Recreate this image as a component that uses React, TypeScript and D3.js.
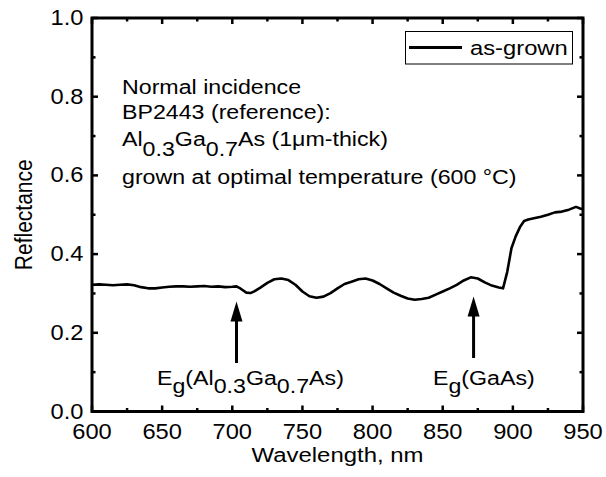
import React from "react";
import * as d3 from "d3";

const wavelength = [600,605,610,615,620,625,630,635,640,645,650,655,660,665,670,675,680,685,690,695,700,703,706,710,713,716,720,725,730,735,740,745,750,755,760,765,770,775,780,785,790,795,800,805,810,815,820,825,830,835,840,845,850,855,860,865,870,875,880,885,890,893,896,899,902,905,908,911,915,920,925,930,935,940,945,948,950];
const reflectance = [0.322,0.323,0.322,0.321,0.322,0.323,0.321,0.316,0.313,0.313,0.315,0.317,0.318,0.318,0.317,0.318,0.319,0.317,0.318,0.316,0.317,0.318,0.312,0.302,0.301,0.306,0.315,0.327,0.336,0.338,0.334,0.322,0.305,0.293,0.289,0.292,0.301,0.313,0.324,0.330,0.336,0.338,0.333,0.324,0.313,0.302,0.294,0.287,0.284,0.286,0.289,0.297,0.305,0.313,0.322,0.333,0.341,0.338,0.328,0.320,0.315,0.313,0.355,0.415,0.445,0.468,0.484,0.488,0.491,0.495,0.500,0.506,0.508,0.513,0.520,0.516,0.514];

const xTicks = [600, 650, 700, 750, 800, 850, 900, 950];
const xMinor = [625, 675, 725, 775, 825, 875, 925];
const yTicks = [0.0, 0.2, 0.4, 0.6, 0.8, 1.0];
const yMinor = [0.1, 0.3, 0.5, 0.7, 0.9];
const seriesName = "as-grown";
const arrowsAt = [703, 872];

const W = 606, H = 477;
const left = 92, right = 583, top = 18, bottom = 411.5;
const FONT = "Arial, 'Liberation Sans', Helvetica, sans-serif";
const SX = 1.16;

function T(props: { x: number; y: number; fs: number; sx?: number; anchor?: string; rot?: boolean; children: React.ReactNode }) {
  const { x, y, fs, sx = SX, anchor = "start", rot = false, children } = props;
  return (
    <text
      transform={`translate(${x},${y}) scale(${sx},1)${rot ? " rotate(-90)" : ""}`}
      fontSize={fs}
      textAnchor={anchor}
    >
      {children}
    </text>
  );
}

export default function App() {
  const x = d3.scaleLinear().domain([600, 950]).range([left, right]);
  const y = d3.scaleLinear().domain([0, 1]).range([bottom, top]);
  const line = d3.line<number>().x((_, i) => x(wavelength[i])).y((d) => y(d));
  const major = 6, minor = 3.5;
  const tickFs = 21.5, tickSx = 1.1;
  const fs = 20;
  const sub = 10, subE = 8;

  const arrow = (nm: number, tipY: number, baseY: number) => {
    const cx = x(nm);
    return (
      <g key={nm}>
        <line x1={cx} x2={cx} y1={tipY + 15} y2={baseY} stroke="#000" strokeWidth={3} />
        <path d={`M${cx},${tipY} L${cx - 6},${tipY + 20} L${cx + 6},${tipY + 20} Z`} fill="#000" />
      </g>
    );
  };

  return (
    <svg width={W} height={H} style={{ position: "absolute", left: 0, top: 0, background: "#fff" }} fontFamily={FONT}>
      <rect x={0} y={0} width={W} height={H} fill="#fff" />
      <path d={line(reflectance) || ""} fill="none" stroke="#000" strokeWidth={2.6} strokeLinejoin="round" />
      {xTicks.map((t) => (
        <g key={"xt" + t}>
          <line x1={x(t)} x2={x(t)} y1={bottom} y2={bottom - major} stroke="#000" strokeWidth={2.5} />
          <line x1={x(t)} x2={x(t)} y1={top} y2={top + major} stroke="#000" strokeWidth={2.5} />
          <T x={x(t)} y={439} fs={tickFs} sx={tickSx} anchor="middle">{t}</T>
        </g>
      ))}
      {xMinor.map((t) => (
        <g key={"xm" + t}>
          <line x1={x(t)} x2={x(t)} y1={bottom} y2={bottom - minor} stroke="#000" strokeWidth={2.5} />
          <line x1={x(t)} x2={x(t)} y1={top} y2={top + minor} stroke="#000" strokeWidth={2.5} />
        </g>
      ))}
      {yTicks.map((t) => (
        <g key={"yt" + t}>
          <line x1={left} x2={left + major} y1={y(t)} y2={y(t)} stroke="#000" strokeWidth={2.5} />
          <line x1={right} x2={right - major} y1={y(t)} y2={y(t)} stroke="#000" strokeWidth={2.5} />
          <T x={83.5} y={y(t) + 7} fs={tickFs} sx={tickSx} anchor="end">{t.toFixed(1)}</T>
        </g>
      ))}
      {yMinor.map((t) => (
        <g key={"ym" + t}>
          <line x1={left} x2={left + minor} y1={y(t)} y2={y(t)} stroke="#000" strokeWidth={2.5} />
          <line x1={right} x2={right - minor} y1={y(t)} y2={y(t)} stroke="#000" strokeWidth={2.5} />
        </g>
      ))}
      <rect x={left} y={top} width={right - left} height={bottom - top} fill="none" stroke="#000" strokeWidth={3} />
      <T x={(left + right) / 2} y={462} fs={21} sx={1.14} anchor="middle">Wavelength, nm</T>
      <T x={32} y={(top + bottom) / 2} fs={21} sx={1.14} anchor="middle" rot>Reflectance</T>
      <rect x={405.5} y={31.5} width={167} height={32.5} fill="#fff" stroke="#000" strokeWidth={1} />
      <line x1={409} x2={462} y1={47.5} y2={47.5} stroke="#000" strokeWidth={3} />
      <T x={470} y={55} fs={20.5}>{seriesName}</T>
      <T x={122} y={94} fs={fs}>Normal incidence</T>
      <T x={122} y={118.5} fs={fs}>BP2443 (reference):</T>
      <T x={122} y={146} fs={fs}>Al<tspan dy={sub}>0.3</tspan><tspan dy={-sub}>Ga</tspan><tspan dy={sub}>0.7</tspan><tspan dy={-sub}>As (1μm-thick)</tspan></T>
      <T x={122} y={184} fs={fs}>grown at optimal temperature (600 °C)</T>
      <T x={157} y={385} fs={fs}>E<tspan dy={subE}>g</tspan><tspan dy={-subE}>(Al</tspan><tspan dy={subE}>0.3</tspan><tspan dy={-subE}>Ga</tspan><tspan dy={subE}>0.7</tspan><tspan dy={-subE}>As)</tspan></T>
      <T x={433} y={385} fs={fs}>E<tspan dy={subE}>g</tspan><tspan dy={-subE}>(GaAs)</tspan></T>
      {arrow(arrowsAt[0], 301.5, 363)}
      {arrow(arrowsAt[1], 296.5, 358)}
    </svg>
  );
}
